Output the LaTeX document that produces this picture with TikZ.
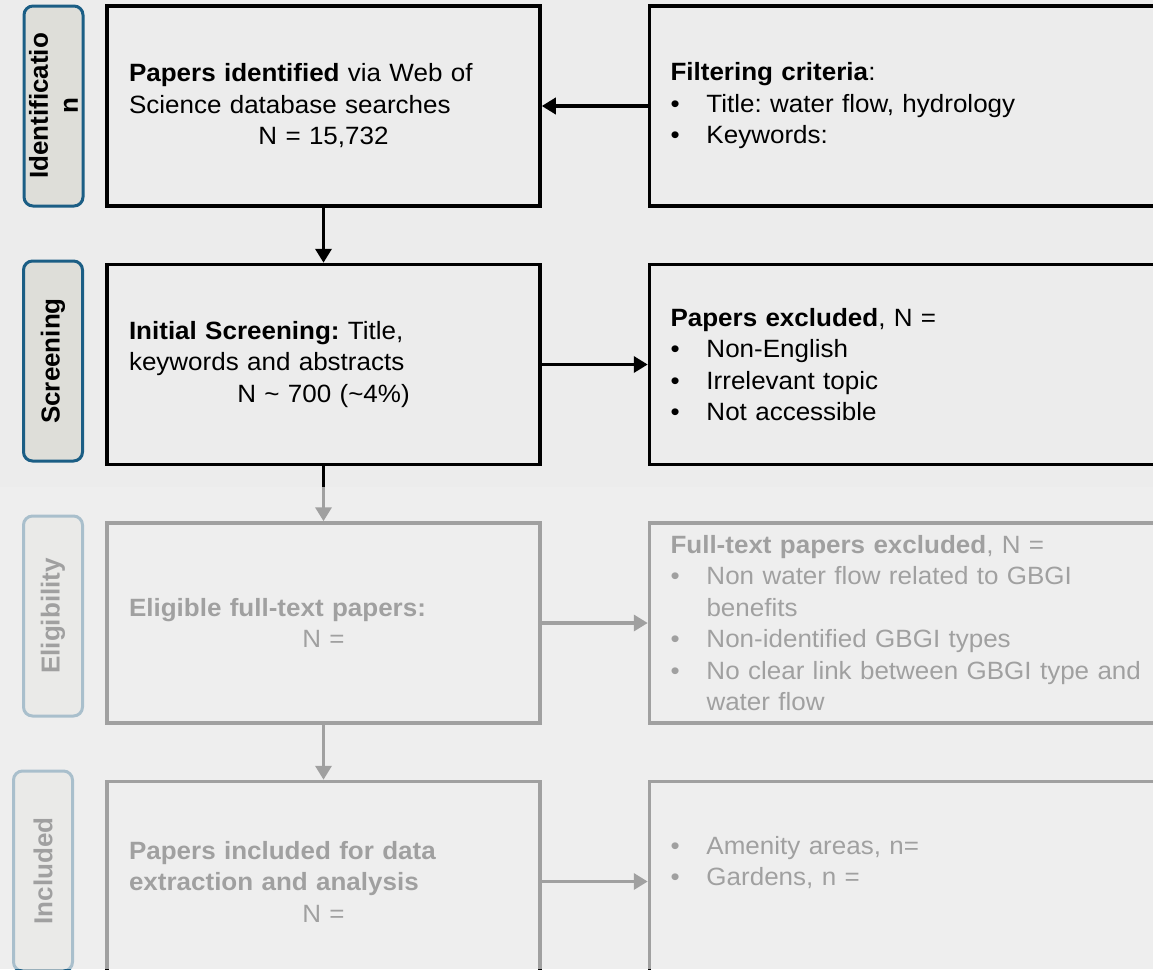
\documentclass[tikz,border=0pt]{standalone}
\usepackage{fontspec}
\setmainfont{Liberation Sans}[FakeStretch=1.04]
\newfontfamily\labelfont{Liberation Sans}
\usetikzlibrary{positioning,arrows.meta}

\definecolor{bggray}{HTML}{ECECEC}
\definecolor{fadegray}{HTML}{F0F0F0}
\definecolor{stageblue}{HTML}{1B5E85}
\definecolor{stagefill}{HTML}{DEDED9}

\frenchspacing
\newcommand\bodysize{\fontsize{25}{31.5}\selectfont}
\newcommand\bitem[1]{\mbox{\makebox[36pt][l]{\textbullet}#1}}
\newcommand\midline[1]{\hspace*{\fill}#1\hspace*{\fill}\mbox{}}

\begin{document}
\begin{tikzpicture}[x=1pt, y=-1pt,
    box/.style={draw, line width=3.5pt, minimum height=200pt, inner ysep=0pt, align=left, font=\bodysize},
    leftbox/.style={box, text width=389pt, inner xsep=22pt},
    rightbox/.style={box, text width=463pt, inner xsep=21pt},
    stage/.style={draw=stageblue, fill=stagefill, line width=3pt, rounded corners=9pt, rotate=90,
      minimum width=200pt, minimum height=59pt, inner sep=0pt, align=center,
      font=\labelfont\bfseries\fontsize{26}{30}\selectfont},
    flow/.style={line width=3.5pt, -{Triangle[length=14pt,width=16pt]}}]
  \useasboundingbox (0,0) rectangle (1153,969);
  \clip (0,0) rectangle (1153,969);
  \fill[bggray] (0,0) rectangle (1153,969);

  \foreach \x/\y/\lbl [count=\i] in {53.5/106/{Identificatio\\n}, 53/361/Screening, 53/616/Eligibility, 43/871/Included}
    \node[stage] (stage\i) at (\x,\y) {\lbl};

  \node[leftbox] (ident) at (323.5,106) {\textbf{Papers identified} via Web of\\Science database searches\\\midline{N = 15,732}};
  \node[rightbox, right=106pt of ident] (filter) {\textbf{Filtering criteria}:\\\bitem{Title: water flow, hydrology}\\\bitem{Keywords:}};
  \node[leftbox, below=55pt of ident] (screen) {\textbf{Initial Screening:} Title,\\keywords and abstracts\\\midline{N \textasciitilde{} 700 (\textasciitilde4\%)}};
  \node[rightbox, right=106pt of screen] (excl) {\textbf{Papers excluded}, N =\\\bitem{Non-English}\\\bitem{Irrelevant topic}\\\bitem{Not accessible}};
  \node[leftbox, below=55pt of screen] (elig) {\textbf{Eligible full-text papers:}\\\midline{N =}};
  \node[rightbox, right=106pt of elig] (fullexcl) {\textbf{Full-text papers excluded}, N =\\\bitem{Non water flow related to GBGI}\\\hspace*{36pt}benefits\\\bitem{Non-identified GBGI types}\\\bitem{No clear link between GBGI type and}\\\hspace*{36pt}water flow};
  \node[leftbox, below=55pt of elig] (incl) {\textbf{Papers included for data}\\\textbf{extraction and analysis}\\\midline{N =}};
  \node[rightbox, right=106pt of incl] (types) {\bitem{Amenity areas, n=}\\\bitem{Gardens, n =}\\\strut};

  \draw[flow] (filter) -- (ident);
  \draw[flow] (ident) -- (screen);
  \draw[flow] (screen) -- (excl);
  \draw[flow] (screen) -- (elig);
  \draw[flow] (elig) -- (fullexcl);
  \draw[flow] (elig) -- (incl);
  \draw[flow] (incl) -- (types);

  \fill[fadegray, opacity=0.67] (0,487) rectangle (1153,969);
\end{tikzpicture}
\end{document}
